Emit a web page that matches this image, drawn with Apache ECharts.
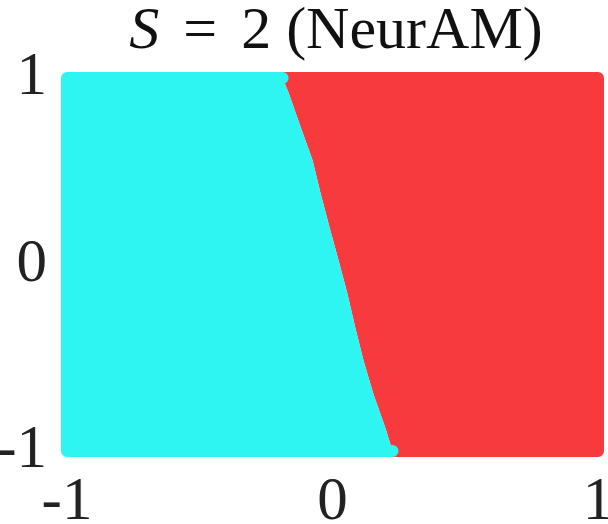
<!DOCTYPE html>
<html>
<head>
<meta charset="utf-8">
<script src="https://cdn.jsdelivr.net/npm/echarts@6/dist/echarts.min.js"></script>
<style>
  html, body { margin: 0; padding: 0; background: #fff; }
  #chart { width: 608px; height: 524px; }
</style>
</head>
<body>
<div id="chart"></div>
<script>
// boundary between the two classes, read top to bottom
const boundaryX = [-0.188, -0.165, -0.12, -0.075, -0.045, -0.011, 0.023, 0.056, 0.086, 0.117, 0.154, 0.199, 0.226]
const boundaryY = [1, 0.92, 0.737, 0.559, 0.382, 0.199, 0.022, -0.156, -0.339, -0.516, -0.694, -0.876, -1]
const xTicks = [-1, 0, 1]
const yTicks = [-1, 0, 1]

const cyan = '#2ef5f2'
const red = '#f73a3d'

const boundary = boundaryX.map((x, i) => [x, boundaryY[i]])
// cyan region: left side, red region: right side
const cyanRegion = [[-1, 1]].concat(boundary, [[-1, -1]])
const redRegion = boundary.concat([[1, -1], [1, 1]])
// outer edges get a thick stroke to look like the dot cloud
const lastX = boundaryX[boundaryX.length - 1]
const cyanEdge = [[boundaryX[0], 1], [-1, 1], [-1, -1], [lastX, -1]]
const redEdge = [[boundaryX[0], 1], [1, 1], [1, -1], [lastX, -1]]

const chart = echarts.init(document.getElementById('chart'))

function regionSeries(name, region, edge, color) {
  return {
    name: name,
    type: 'custom',
    coordinateSystem: 'cartesian2d',
    data: [0],
    renderItem: (params, api) => {
      const pts = region.map(p => api.coord(p))
      const edgePts = edge.map(p => api.coord(p))
      return {
        type: 'group',
        children: [
          { type: 'polygon', shape: { points: pts }, style: { fill: color } },
          {
            type: 'polyline',
            shape: { points: edgePts },
            style: { stroke: color, lineWidth: 12, lineJoin: 'round', lineCap: 'round', fill: null },
          },
        ],
      }
    },
    silent: true,
  }
}

const labelStyle = {
  fontFamily: 'Liberation Serif',
  fontSize: 61,
  color: '#222',
}

const titleFont = { fontFamily: 'Liberation Serif', fontSize: 60, fontWeight: 'normal', color: '#111' }

chart.setOption({
  animation: false,
  title: {
    text: '{i|S}{op|=}{t|2 (NeurAM)}',
    left: 331,
    textAlign: 'center',
    top: -3,
    textStyle: {
      fontWeight: 'normal',
      rich: {
        i: Object.assign({}, titleFont, { fontStyle: 'italic' }),
        op: Object.assign({}, titleFont, { padding: [0, 24] }),
        t: titleFont,
      },
    },
  },
  grid: { left: 67, right: 10, top: 78, bottom: 73, containLabel: false, outerBoundsMode: 'none' },
  xAxis: {
    type: 'value',
    min: -1,
    max: 1,
    interval: 1,
    axisLine: { show: false },
    axisTick: { show: false },
    splitLine: { show: false },
    axisLabel: Object.assign({}, labelStyle, {
      margin: 21,
      formatter: v => (xTicks.indexOf(v) >= 0 ? String(v) : ''),
    }),
  },
  yAxis: {
    type: 'value',
    min: -1,
    max: 1,
    interval: 1,
    axisLine: { show: false },
    axisTick: { show: false },
    splitLine: { show: false },
    axisLabel: Object.assign({}, labelStyle, {
      margin: 20,
      formatter: v => (yTicks.indexOf(v) >= 0 ? String(v) : ''),
    }),
  },
  series: [
    regionSeries('red', redRegion, redEdge, red),
    regionSeries('cyan', cyanRegion, cyanEdge, cyan),
  ],
})
</script>
</body>
</html>
